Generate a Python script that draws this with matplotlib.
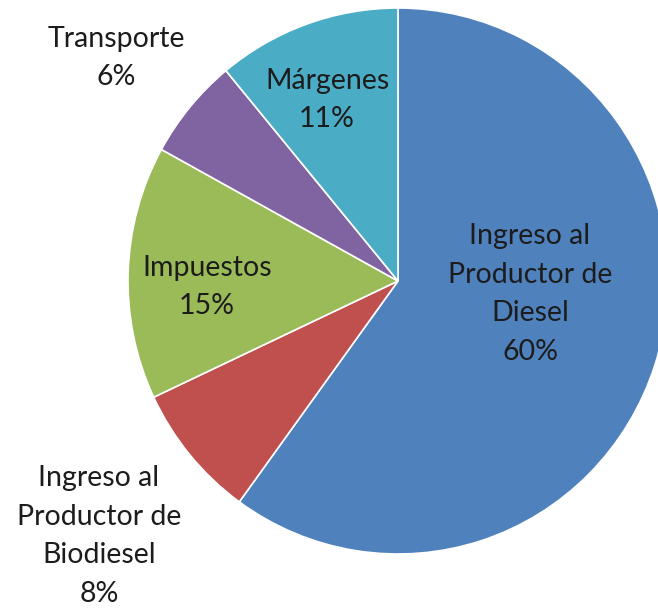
#!/usr/bin/env python3
"""Pie chart: composition of diesel/biodiesel price."""

import matplotlib
matplotlib.use('Agg')
import matplotlib.pyplot as plt

# data
labels = ['Ingreso al\nProductor de\nDiesel',
          'Ingreso al\nProductor de\nBiodiesel',
          'Impuestos',
          'Transporte',
          'Márgenes']
shares = [60, 8, 15, 6, 11]
colors = ['#4F81BD', '#C0504D', '#9BBB59', '#8064A2', '#4BACC6']

# label centres in figure pixels (x from left, y from top)
label_px = [(530, 294), (99, 536), (207, 287), (116, 58), (327, 100)]

W, H = 658, 609
CX, CY, RX, RY = 398, 281, 270, 273

fig = plt.figure(figsize=(W / 100, H / 100), dpi=100)
ax = fig.add_axes([(CX - RX) / W, (H - CY - RY) / H, 2 * RX / W, 2 * RY / H])
ax.pie(shares, colors=colors, startangle=90, counterclock=False,
       wedgeprops={'edgecolor': 'white', 'linewidth': 1.2})
ax.set_aspect('auto')
ax.set_xlim(-1, 1)
ax.set_ylim(-1, 1)
ax.axis('off')

for lab, val, (px, py) in zip(labels, shares, label_px):
    fig.text(px / W, 1 - py / H, f'{lab}\n{val}%', ha='center', va='center',
             fontsize=20.5, family='Lato', color='#1c1c1c', linespacing=1.6)

fig.savefig('out.png', dpi=100)
